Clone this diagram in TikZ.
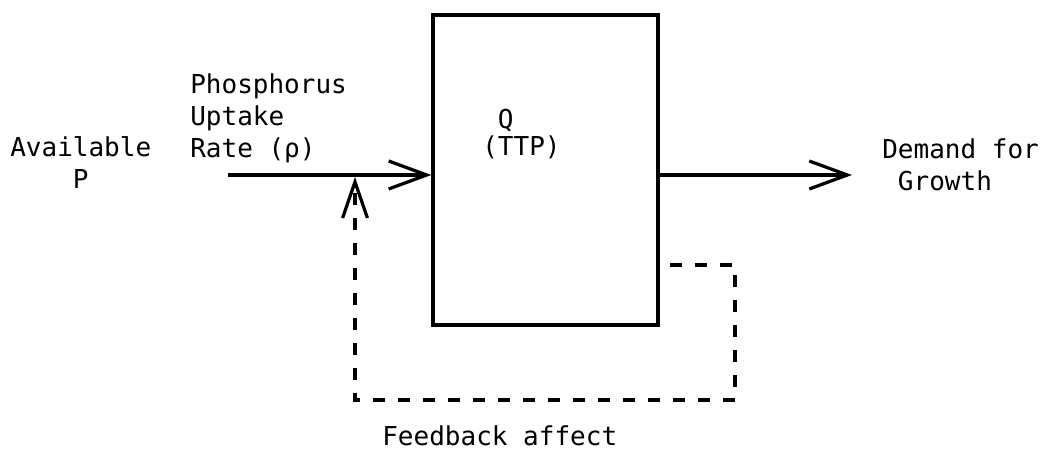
\documentclass[tikz,border=0pt]{standalone}
\usepackage{fontspec}
\setmainfont{DejaVu Sans Mono}
\usetikzlibrary{arrows.meta}

\begin{document}
\begin{tikzpicture}[x=0.025cm,y=-0.025cm]
    \tikzstyle txt=[inner sep=0pt,font=\fontsize{18.5}{22.8}\selectfont]
    \tikzstyle flowline=[line width=2.3pt,-{Straight Barb[length=0.95cm,width=0.7cm]}]
    \tikzstyle feedback=[line width=2.3pt,dash pattern=on 0.3cm off 0.325cm,-{Straight Barb[length=0.9cm,width=0.62cm]}]
    \useasboundingbox (0,0) rectangle (1044,451);
    % pool box
    \node[draw,line width=2.3pt,inner sep=0pt,minimum width=5.625cm,minimum height=7.75cm] (ttp) at (545.5,170) {};
    \node[txt,anchor=base west,align=left] (ttplbl) at (482,156) {\hphantom{(}Q\\[-3pt](TTP)};
    % labels
    \node[txt,anchor=base west,align=center] (avail) at (10,189) {Available\\P};
    \node[txt,anchor=base west,align=left] (uptake) at (190,158) {Phosphorus\\Uptake\\Rate (ρ)};
    \node[txt,anchor=base west,align=left] (demand) at (882,191) {Demand for\\\hphantom{D}Growth};
    \node[txt,anchor=base west] (fbtext) at (382,445) {Feedback affect};
    % flows
    \coordinate (pin) at (228,175);
    \coordinate (pout) at (852,175);
    \draw[flowline] (pin) -- (pin -| ttp.west);
    \draw[flowline] (pin -| ttp.east) -- (pout);
    \coordinate (fbtap) at (670,265);
    \coordinate (fbright) at (735,400);
    \coordinate (fbleft) at (355,400);
    \coordinate (fbtip) at (355,177);
    \draw[feedback] (fbtap) -- (fbtap -| fbright) -- (fbright) -- (fbleft) -- (fbtip);
\end{tikzpicture}
\end{document}
